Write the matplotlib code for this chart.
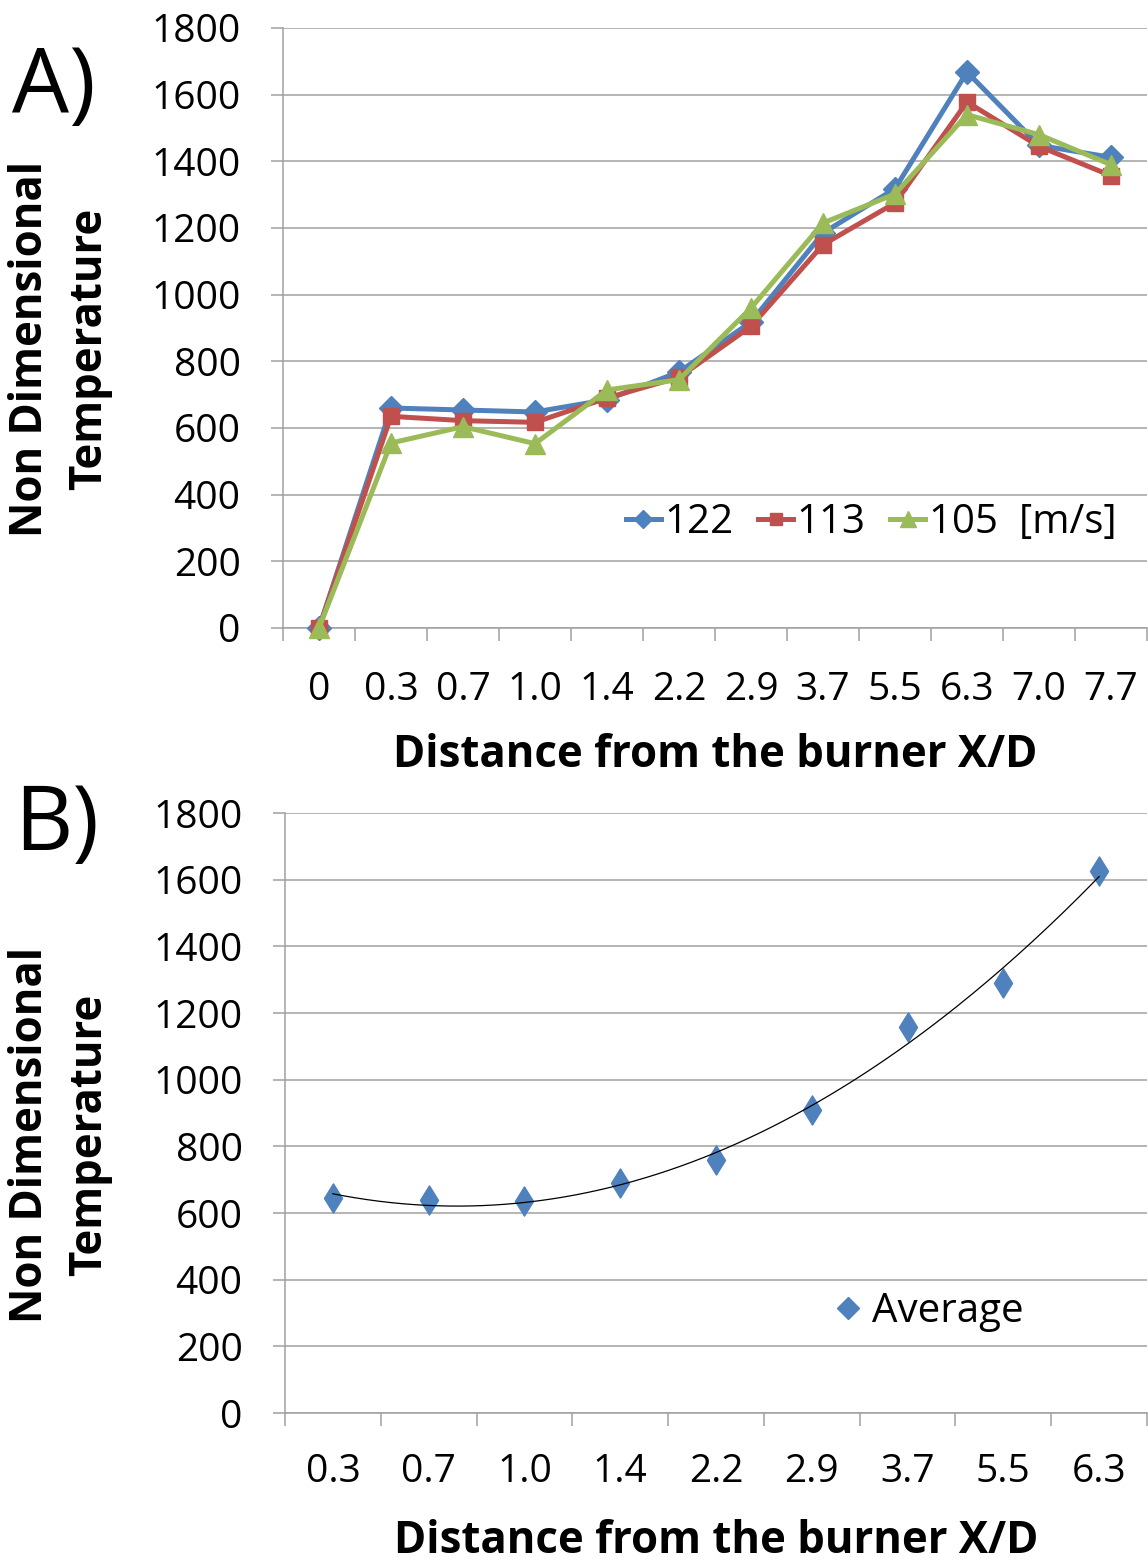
import numpy as np
import matplotlib
matplotlib.use("Agg")
import matplotlib.pyplot as plt
from matplotlib.lines import Line2D
from matplotlib.path import Path

plt.rcParams['font.family'] = ['Open Sans', 'DejaVu Sans']

# ---------------- data ----------------
cats_a = ["0", "0.3", "0.7", "1.0", "1.4", "2.2", "2.9", "3.7", "5.5", "6.3", "7.0", "7.7"]
v122 = [0, 660, 654, 648, 685, 768, 918, 1185, 1318, 1668, 1448, 1412]
v113 = [0, 635, 622, 617, 690, 752, 905, 1150, 1275, 1578, 1445, 1357]
v105 = [0, 555, 604, 553, 714, 745, 960, 1215, 1302, 1540, 1480, 1390]
series_labels = ["122", "113", "105  [m/s]"]

cats_b = ["0.3", "0.7", "1.0", "1.4", "2.2", "2.9", "3.7", "5.5", "6.3"]
avg = [645, 640, 635, 690, 760, 910, 1158, 1290, 1625]

yticks = [0, 200, 400, 600, 800, 1000, 1200, 1400, 1600, 1800]

# ---------------- style ----------------
BLUE = "#4F81BD"
RED = "#C0504D"
GREEN = "#9BBB59"
GRID = "#A0A0A0"

W, H = 1148, 1561
fig = plt.figure(figsize=(W / 100, H / 100), dpi=100)


def fx(px):
    return px / W


def fy(py):
    return 1 - py / H


def style_axes(ax, n, tickpad):
    ax.set_xlim(-0.5, n - 0.5)
    ax.set_ylim(0, 1800)
    ax.set_yticks(yticks)
    ax.set_yticklabels([str(v) for v in yticks])
    ax.yaxis.grid(True, color=GRID, linewidth=1.1)
    ax.set_axisbelow(True)
    for s in ("top", "right"):
        ax.spines[s].set_visible(False)
    for s in ("left", "bottom"):
        ax.spines[s].set_color(GRID)
        ax.spines[s].set_linewidth(1.1)
    ax.set_xticks(np.arange(n))
    ax.set_xticks(np.arange(n + 1) - 0.5, minor=True)
    ax.tick_params(axis="x", which="major", length=0, pad=tickpad, labelsize=28)
    ax.tick_params(axis="x", which="minor", length=9.4, width=1.1, color=GRID, direction="out")
    ax.tick_params(axis="y", which="major", length=8.6, width=1.1, color=GRID, direction="out",
                   pad=22, labelsize=28)


# ---------------- panel A ----------------
ax1 = fig.add_axes([fx(283), fy(628), (1147 - 283) / W, 600 / H])
xa = np.arange(len(cats_a))
lw = 3.6
ax1.plot(xa, v122, color=BLUE, lw=lw, marker="D", ms=12, mec=BLUE, mfc=BLUE, clip_on=False, zorder=3,
         label=series_labels[0])
ax1.plot(xa, v113, color=RED, lw=lw, marker="s", ms=11.5, mec=RED, mfc=RED, clip_on=False, zorder=4,
         label=series_labels[1])
ax1.plot(xa, v105, color=GREEN, lw=lw, marker="^", ms=15, mec=GREEN, mfc=GREEN, clip_on=False, zorder=5,
         label=series_labels[2])
style_axes(ax1, len(cats_a), 31)
ax1.set_xticklabels(cats_a)

leg1 = ax1.legend(loc="center", bbox_to_anchor=(fx(871), fy(523)), bbox_transform=fig.transFigure,
                  ncol=3, frameon=False, fontsize=29, handlelength=0.87, handletextpad=0.08,
                  columnspacing=0.62, borderpad=0, borderaxespad=0, markerscale=0.8)

# ---------------- panel B ----------------
ax2 = fig.add_axes([fx(285), fy(1413), (1147 - 285) / W, 600 / H])
xb = np.arange(len(cats_b))
tall_diamond = Path([(0, 1), (0.62, 0), (0, -1), (-0.62, 0), (0, 1)],
                    [Path.MOVETO, Path.LINETO, Path.LINETO, Path.LINETO, Path.CLOSEPOLY])
ax2.plot(xb, avg, linestyle="none", marker=tall_diamond, ms=21, mec=BLUE, mfc=BLUE, zorder=4, clip_on=False)
coef = np.polyfit(xb, avg, 2)
xs = np.linspace(xb[0], xb[-1], 200)
ax2.plot(xs, np.polyval(coef, xs), color="black", lw=0.9, zorder=5)
style_axes(ax2, len(cats_b), 29)
ax2.set_xticklabels(cats_b)

h_avg = Line2D([], [], linestyle="none", marker="D", ms=11.5, mec=BLUE, mfc=BLUE)
ax2.legend([h_avg], ["Average"], loc="center left", bbox_to_anchor=(fx(836), fy(1312)),
           bbox_transform=fig.transFigure, frameon=False, fontsize=29, handlelength=0.6,
           handletextpad=0.3, borderpad=0, borderaxespad=0)

# ---------------- labels ----------------
xlabel = "Distance from the burner X/D"
fig.text(fx(715), fy(767), xlabel, ha="center", va="baseline", fontsize=31.5, fontweight="bold")
fig.text(fx(716), fy(1553), xlabel, ha="center", va="baseline", fontsize=31.5, fontweight="bold")

for yc in (349, 1135):
    fig.text(fx(31), fy(yc), "Non Dimensional", rotation=90, ha="center", va="center",
             fontsize=31.5, fontweight="bold")
    fig.text(fx(90), fy(yc), "Temperature", rotation=90, ha="center", va="center",
             fontsize=31.5, fontweight="bold")

fig.text(fx(12), fy(112), "A)", ha="left", va="baseline", fontsize=65)
fig.text(fx(14), fy(850), "B)", ha="left", va="baseline", fontsize=65)

fig.savefig("out.png", dpi=100)
